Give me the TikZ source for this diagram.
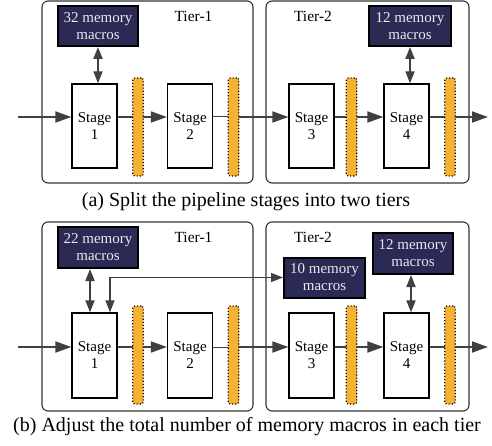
\documentclass[tikz,border=0pt]{standalone}
\usepackage{fontspec}
\setmainfont{Liberation Serif}
\usetikzlibrary{arrows.meta}
\definecolor{navy}{RGB}{42,42,84}
\definecolor{regor}{RGB}{245,178,50}
\definecolor{arrgray}{RGB}{64,64,64}
\definecolor{tiergray}{RGB}{50,50,50}
\definecolor{memtext}{RGB}{232,232,240}
\begin{document}
\begin{tikzpicture}[x=1pt,y=-1pt,
  tierbox/.style={draw=tiergray, line width=1.1pt, rounded corners=6pt},
  stagebox/.style={draw=black, fill=white, line width=1.3pt, minimum width=45pt, minimum height=84pt, inner sep=0pt, align=center, font=\fontsize{15}{17}\selectfont},
  regbox/.style={draw=black, fill=regor, line width=1.1pt, dotted, rounded corners=2pt, minimum width=10.5pt, minimum height=98pt, inner sep=0pt},
  membox/.style={draw=black, fill=navy, line width=2pt, minimum width=80pt, minimum height=40pt, inner sep=0pt, align=center, text=memtext, font=\fontsize{15}{17}\selectfont},
  tierlabel/.style={anchor=base, font=\fontsize{15.5}{17}\selectfont},
  caption/.style={anchor=base, font=\fontsize{20}{22}\selectfont},
  arr/.style={draw=arrgray, line width=1.8pt, -{Triangle[length=16pt,width=11pt]}},
  thinline/.style={draw=arrgray, line width=1pt},
  darr/.style={draw=arrgray, line width=1.8pt, {Triangle[length=12pt,width=9pt]}-{Triangle[length=12pt,width=9pt]}},
  fbarr/.style={draw=arrgray, line width=1.2pt, {Triangle[length=12pt,width=9pt]}-{Triangle[length=12pt,width=9pt]}}
]
\useasboundingbox (0,0) rectangle (492,446);

% ---------- (a) ----------
\draw[tierbox] (42,1) rectangle (253,183);
\draw[tierbox] (266,1) rectangle (469,183);
\node[tierlabel] (t1a) at (193.5,22) {Tier-1};
\node[tierlabel] (t2a) at (313,22) {Tier-2};

\node[stagebox] (s1a) at (94.5,126) {Stage\\1};
\node[stagebox] (s2a) at (190,126) {Stage\\2};
\node[stagebox] (s3a) at (311.5,126) {Stage\\3};
\node[stagebox] (s4a) at (406.5,126) {Stage\\4};

\coordinate (ina) at (18,117);
\coordinate (outa) at (488,117);
\coordinate (r2ac) at (233.5,117);
\draw[arr] (ina) -- ([yshift=9pt]s1a.west);
\draw[arr] ([yshift=9pt]s1a.east) -- ([yshift=9pt]s2a.west);
\draw[thinline] ([yshift=9pt]s2a.east) -- (r2ac);
\draw[arr] (r2ac) -- ([yshift=9pt]s3a.west);
\draw[arr] ([yshift=9pt]s3a.east) -- ([yshift=9pt]s4a.west);
\draw[arr] ([yshift=9pt]s4a.east) -- (outa);

\node[regbox] (r1a) at (138,127) {};
\node[regbox] (r2a) at (233.5,127) {};
\node[regbox] (r3a) at (351.5,127) {};
\node[regbox] (r4a) at (450,127) {};

\node[membox] (m32) at (98,26) {32 memory\\macros};
\node[membox, minimum width=82pt] (m12a) at (410,26) {12 memory\\macros};
\draw[darr] (m32.south) -- (s1a.north -| m32.south);
\draw[darr] (m12a.south) -- (s4a.north -| m12a.south);

\node[caption] (capa) at (246,207) {(a) Split the pipeline stages into two tiers};

% ---------- (b) ----------
\draw[tierbox] (42,222) rectangle (253,411);
\draw[tierbox] (266,222) rectangle (469,411);
\node[tierlabel] (t1b) at (193.5,243) {Tier-1};
\node[tierlabel] (t2b) at (313,243) {Tier-2};

\node[stagebox, minimum height=85pt] (s1b) at (94.5,355.5) {Stage\\1};
\node[stagebox, minimum height=85pt] (s2b) at (190,355.5) {Stage\\2};
\node[stagebox, minimum height=85pt] (s3b) at (311.5,355.5) {Stage\\3};
\node[stagebox, minimum height=85pt] (s4b) at (406.5,355.5) {Stage\\4};

\coordinate (inb) at (18,347);
\coordinate (outb) at (488,347);
\coordinate (r2bc) at (233.5,347);
\draw[arr] (inb) -- ([yshift=8.5pt]s1b.west);
\draw[arr] ([yshift=8.5pt]s1b.east) -- ([yshift=8.5pt]s2b.west);
\draw[thinline] ([yshift=8.5pt]s2b.east) -- (r2bc);
\draw[arr] (r2bc) -- ([yshift=8.5pt]s3b.west);
\draw[arr] ([yshift=8.5pt]s3b.east) -- ([yshift=8.5pt]s4b.west);
\draw[arr] ([yshift=8.5pt]s4b.east) -- (outb);

\node[regbox] (r1b) at (138,355) {};
\node[regbox] (r2b) at (233.5,355) {};
\node[regbox] (r3b) at (351.5,355) {};
\node[regbox] (r4b) at (450,355) {};

\node[membox, minimum height=41pt] (m22) at (98,247.5) {22 memory\\macros};
\node[membox, minimum width=81pt] (m10) at (324.5,277.5) {10 memory\\macros};
\node[membox, minimum height=41pt] (m12b) at (413,253.5) {12 memory\\macros};
\coordinate (m22s) at ([xshift=-8pt]m22.south);
\coordinate (m12bs) at ([xshift=-2pt]m12b.south);
\draw[darr] (m22s) -- (s1b.north -| m22s);
\draw[darr] (m12bs) -- (s4b.north -| m12bs);
\draw[fbarr] ([xshift=15.5pt]s1b.north) |- (m10.west);

\node[caption] (capb) at (247,431) {(b) Adjust the total number of memory macros in each tier};
\end{tikzpicture}
\end{document}
